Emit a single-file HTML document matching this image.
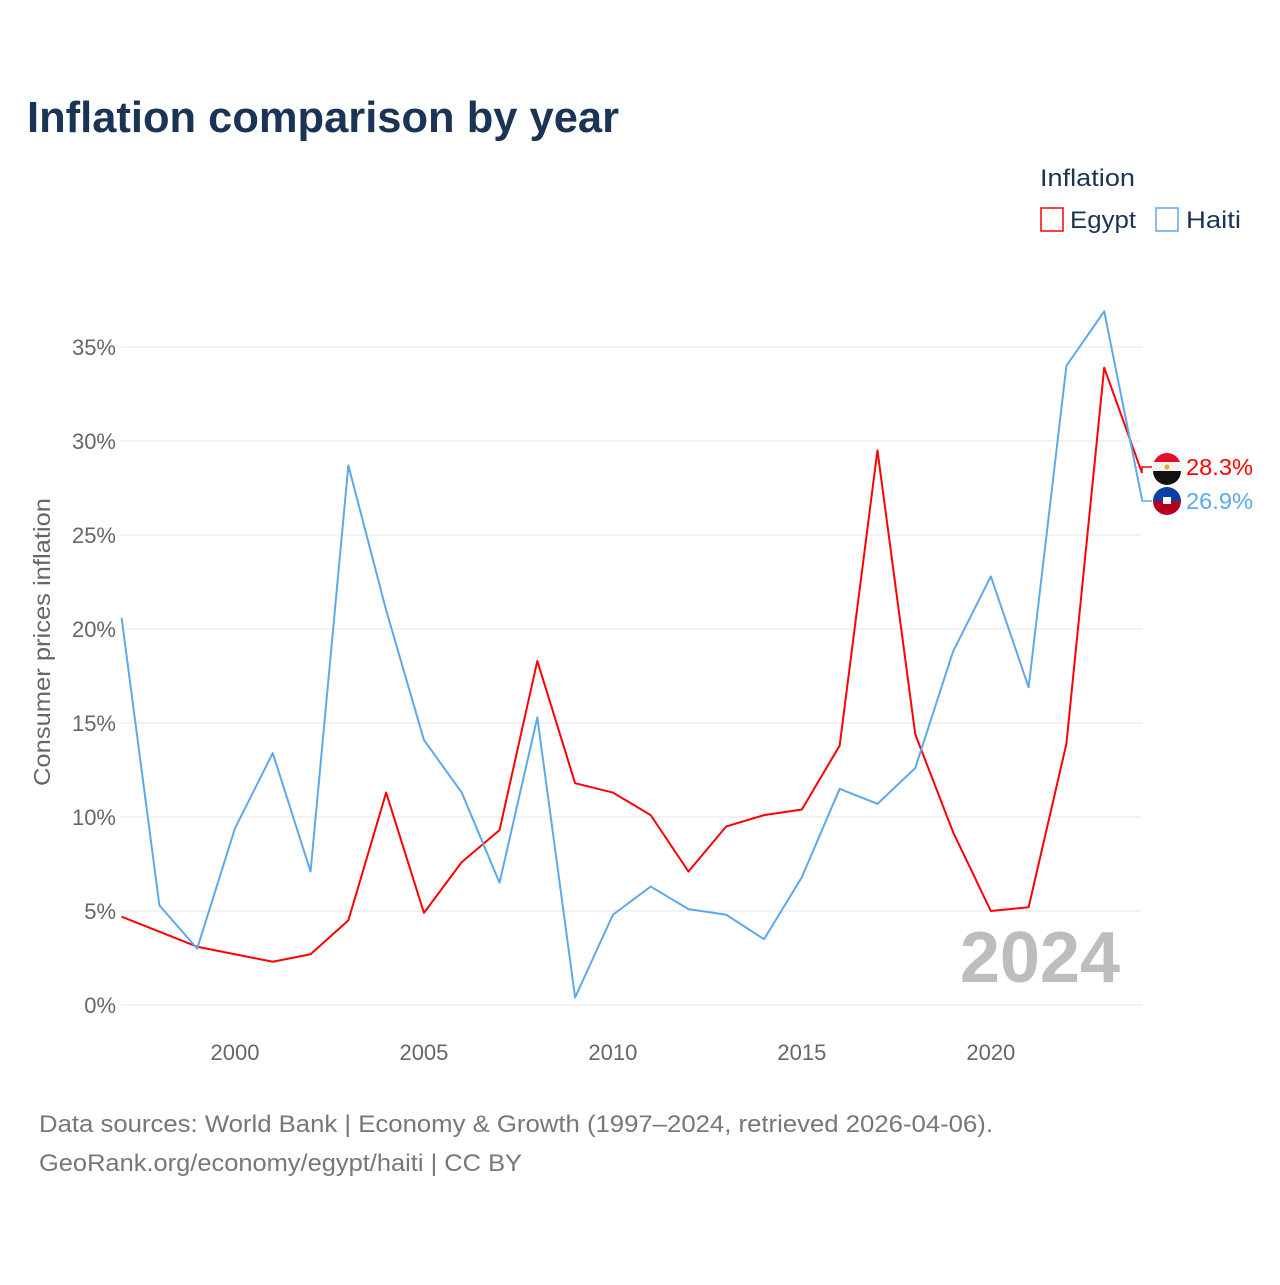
<!DOCTYPE html>
<html><head><meta charset="utf-8"><style>
body{margin:0;background:#fff;font-family:"Liberation Sans",sans-serif;}
svg text{font-family:"Liberation Sans",sans-serif;}
</style></head><body>
<svg width="1280" height="1280">
<text x="27" y="132" font-size="44" font-weight="bold" fill="#1b3354" textLength="592" lengthAdjust="spacingAndGlyphs">Inflation comparison by year</text>
<text x="1040" y="186" font-size="24" fill="#1b3354" textLength="95" lengthAdjust="spacingAndGlyphs">Inflation</text>
<g><rect x="1041" y="208" width="22" height="23" fill="none" stroke="#ff0000" stroke-width="1.5"/><text x="1070" y="228" font-size="24" fill="#1b3354" textLength="66" lengthAdjust="spacingAndGlyphs">Egypt</text></g>
<g><rect x="1156" y="208" width="22" height="23" fill="none" stroke="#5ea8ec" stroke-width="1.5"/><text x="1186" y="228" font-size="24" fill="#1b3354" textLength="55" lengthAdjust="spacingAndGlyphs">Haiti</text></g>
<g id="grid"></g><g id="xt"></g>
<text transform="translate(50,642) rotate(-90)" text-anchor="middle" font-size="23" fill="#666" textLength="288" lengthAdjust="spacingAndGlyphs">Consumer prices inflation</text>
<text x="1120" y="982" text-anchor="end" font-size="72" font-weight="bold" fill="#bdbdbd">2024</text>
<g id="lines"></g>
<g><circle cx="1167" cy="467" r="14" fill="#fff"/><path d="M1153,467 a14,14 0 0,1 28,0 Z" fill="#e0102a"/><rect x="1153" y="462" width="28" height="9" fill="#f2f2f2"/><path d="M1153,471 a14,14 0 0,0 28,0 Z" fill="#111"/><circle cx="1167" cy="467" r="2.5" fill="#f5a623"/><text x="1186" y="475" font-size="23" fill="#ff0000" textLength="67" lengthAdjust="spacingAndGlyphs">28.3%</text></g>
<g><path d="M1153,501 a14,14 0 0,1 28,0 Z" fill="#0b3fa8"/><path d="M1153,501 a14,14 0 0,0 28,0 Z" fill="#b3001e"/><rect x="1163" y="497" width="8" height="7" fill="#fff"/><text x="1186" y="509" font-size="23" fill="#5ea8ec" textLength="67" lengthAdjust="spacingAndGlyphs">26.9%</text></g>
<text x="39" y="1132" font-size="24" fill="#777" textLength="954" lengthAdjust="spacingAndGlyphs">Data sources: World Bank | Economy &amp; Growth (1997–2024, retrieved 2026-04-06).</text>
<text x="39" y="1171" font-size="24" fill="#777" textLength="483" lengthAdjust="spacingAndGlyphs">GeoRank.org/economy/egypt/haiti | CC BY</text>
</svg>
<script>
const years=[1997,1998,1999,2000,2001,2002,2003,2004,2005,2006,2007,2008,2009,2010,2011,2012,2013,2014,2015,2016,2017,2018,2019,2020,2021,2022,2023,2024];
const egypt=[4.7,3.9,3.1,2.7,2.3,2.7,4.5,11.3,4.9,7.6,9.3,18.3,11.8,11.3,10.1,7.1,9.5,10.1,10.4,13.8,29.5,14.4,9.2,5.0,5.2,13.9,33.9,28.3];
const haiti=[20.6,5.3,3.0,9.4,13.4,7.1,28.7,21.0,14.1,11.3,6.5,15.3,0.4,4.8,6.3,5.1,4.8,3.5,6.8,11.5,10.7,12.6,18.8,22.8,16.9,34.0,36.9,26.9];
const yTicks=[0,5,10,15,20,25,30,35];
const xTicks=[2000,2005,2010,2015,2020];
const X=y=>121.6+(y-1997)*(1142-121.6)/27;
const Y=v=>1005-v*18.8;
const NS="http://www.w3.org/2000/svg";
function mk(t,a,p){const e=document.createElementNS(NS,t);for(const k in a)e.setAttribute(k,a[k]);document.getElementById(p).appendChild(e);return e;}
yTicks.forEach(v=>{
 const l=mk('line',{x1:121,x2:1142,y1:Y(v),y2:Y(v),stroke:'#e6e6e6','stroke-width':1},'grid');
 
 
 const t=mk('text',{x:116,y:Y(v)+8,'text-anchor':'end','font-size':22,fill:'#666'},'grid');t.textContent=v+'%';
 
 
});
xTicks.forEach(v=>{
 const t=mk('text',{x:X(v),y:1060,'text-anchor':'middle','font-size':22,fill:'#666'},'xt');t.textContent=v;
 
 
});
function line(vals,c,name,ly){
 const pts=vals.map((v,i)=>X(years[i])+','+Y(v));
 const p=mk('polyline',{points:pts.join(' '),fill:'none',stroke:c,'stroke-width':2,'stroke-linejoin':'round'},'lines');
 
 
 const n=vals.length-1;
 const c2=mk('polyline',{points:`${X(years[n])},${Y(vals[n])} ${X(years[n])},${ly} ${X(years[n])+10},${ly}`,fill:'none',stroke:c,'stroke-width':1.5},'lines');
 
 
}
line(egypt,'#ff0000','egypt-line',467);
line(haiti,'#5ea8ec','haiti-line',501);
</script>
</body></html>
